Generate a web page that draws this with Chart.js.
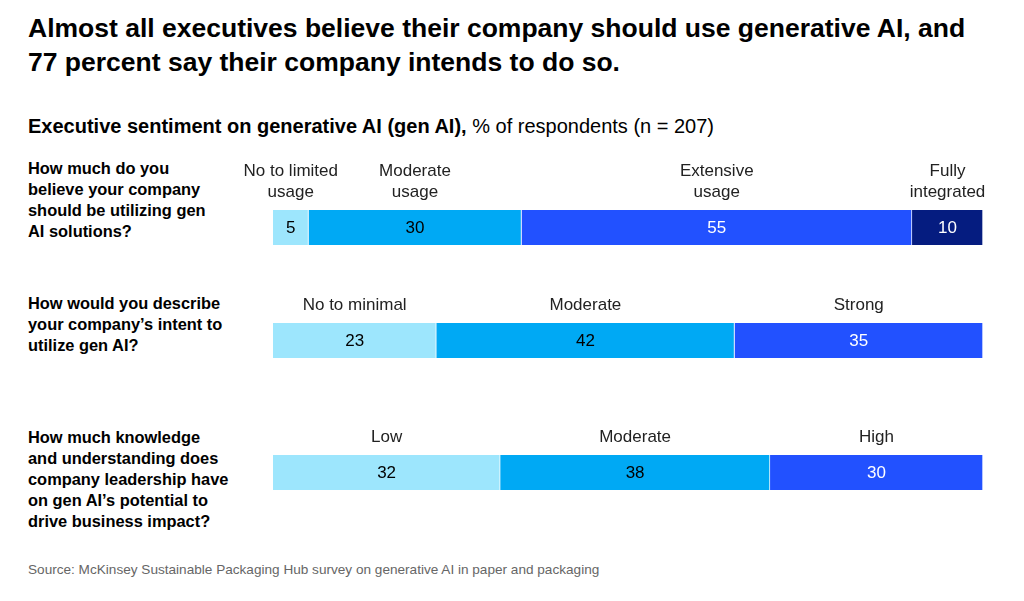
<!DOCTYPE html>
<html>
<head>
<meta charset="utf-8">
<script src="https://cdn.jsdelivr.net/npm/chart.js@4.4.1/dist/chart.umd.min.js"></script>
<style>
  body { margin: 0; background: #fff; font-family: "Liberation Sans", Arial, sans-serif; color: #000; }
  #page { position: relative; width: 1024px; height: 601px; overflow: hidden; }
  .title { position: absolute; left: 28px; top: 11px; font-size: 26.5px; line-height: 34px; font-weight: bold; }
  .subtitle { position: absolute; left: 28px; top: 113px; font-size: 20px; line-height: 26px; }
  .q { position: absolute; left: 28px; font-size: 16.4px; line-height: 21px; font-weight: bold; }
  .row { position: absolute; left: 230px; width: 770px; }
  .source { position: absolute; left: 28px; top: 562px; font-size: 13.6px; color: #666; }
</style>
</head>
<body>
<div id="page">
  <div class="title">Almost all executives believe their company should use generative AI, and<br>77 percent say their company intends to do so.</div>
  <div class="subtitle"><b>Executive sentiment on generative AI (gen AI),</b> % of respondents (n = 207)</div>

  <div class="q" style="top:158px">How much do you<br>believe your company<br>should be utilizing gen<br>AI solutions?</div>
  <div class="q" style="top:293px">How would you describe<br>your company’s intent to<br>utilize gen AI?</div>
  <div class="q" style="top:427px">How much knowledge<br>and understanding does<br>company leadership have<br>on gen AI’s potential to<br>drive business impact?</div>

  <div class="row" style="top:155px;height:90px"><canvas id="row1"></canvas></div>
  <div class="row" style="top:268px;height:90px"><canvas id="row2"></canvas></div>
  <div class="row" style="top:400px;height:90px"><canvas id="row3"></canvas></div>

  <div class="source">Source: McKinsey Sustainable Packaging Hub survey on generative AI in paper and packaging</div>
</div>

<script>
// --- data ---
const usageLabels = [["No to limited", "usage"], ["Moderate", "usage"], ["Extensive", "usage"], ["Fully", "integrated"]];
const usageValues = [5, 30, 55, 10];

const intentLabels = [["No to minimal"], ["Moderate"], ["Strong"]];
const intentValues = [23, 42, 35];

const knowledgeLabels = [["Low"], ["Moderate"], ["High"]];
const knowledgeValues = [32, 38, 30];

const segmentColors = ["#9de6fd", "#00a9f4", "#2251ff", "#051c80"];
const valueTextColors = ["#000", "#000", "#fff", "#fff"];

// draws the segment names above and the values inside each segment
const segmentLabels = {
  id: "segmentLabels",
  afterDatasetsDraw(chart) {
    const ctx = chart.ctx;
    ctx.save();
    ctx.textAlign = "center";
    chart.data.datasets.forEach((ds, i) => {
      const bar = chart.getDatasetMeta(i).data[0];
      if (!bar) return;
      const cx = (bar.x + bar.base) / 2;
      const top = bar.y - bar.height / 2;

      ctx.font = "17px 'Liberation Sans', Arial, sans-serif";
      ctx.textBaseline = "middle";
      ctx.fillStyle = valueTextColors[i];
      ctx.fillText(String(ds.data[0]), cx, bar.y + 1);

      ctx.font = "17px 'Liberation Sans', Arial, sans-serif";
      ctx.fillStyle = "#222";
      const lines = ds.segLabel;
      lines.forEach((line, k) => {
        const y = top - 18 - (lines.length - 1 - k) * 21;
        ctx.fillText(line, cx, y);
      });
    });
    ctx.restore();
  }
};

function drawRow(id, labels, values) {
  new Chart(document.getElementById(id), {
    type: "bar",
    data: {
      labels: [""],
      datasets: values.map((v, i) => ({
        data: [v],
        segLabel: labels[i],
        backgroundColor: segmentColors[i],
        borderColor: "rgba(255,255,255,0.65)",
        borderWidth: { top: 0, bottom: 0, left: 0, right: 1 },
        borderSkipped: false,
        barPercentage: 1,
        categoryPercentage: 1
      }))
    },
    options: {
      indexAxis: "y",
      responsive: true,
      maintainAspectRatio: false,
      animation: false,
      layout: { padding: { left: 43, right: 17, top: 55, bottom: 0 } },
      scales: {
        x: { stacked: true, min: 0, max: 100, display: false },
        y: { stacked: true, display: false }
      },
      plugins: { legend: { display: false }, tooltip: { enabled: false } }
    },
    plugins: [segmentLabels]
  });
}

drawRow("row1", usageLabels, usageValues);
drawRow("row2", intentLabels, intentValues);
drawRow("row3", knowledgeLabels, knowledgeValues);
</script>
</body>
</html>
